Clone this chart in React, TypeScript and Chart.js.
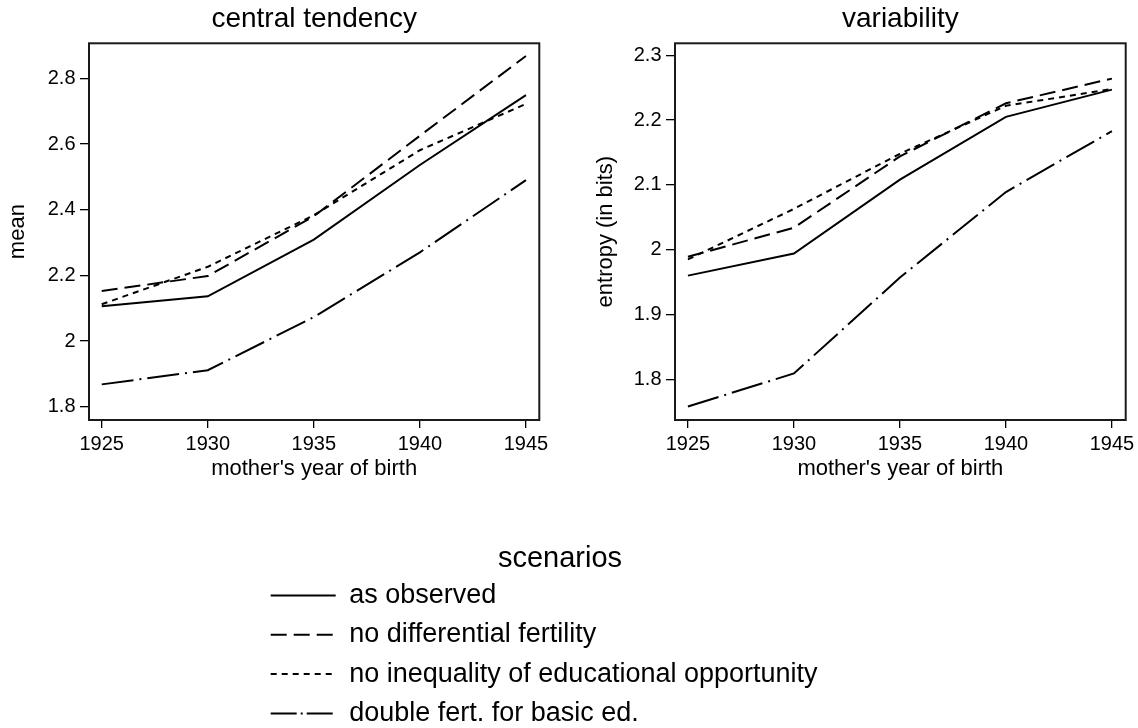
import React, { useEffect, useRef } from 'react';
import { Chart, registerables } from 'chart.js';

Chart.register(...registerables);

// ---------------- data ----------------
const years = [1925, 1930, 1935, 1940, 1945];
const xTickValues = [1925, 1930, 1935, 1940, 1945];

const scenarioLabels = [
  'as observed',
  'no differential fertility',
  'no inequality of educational opportunity',
  'double fert. for basic ed.',
];

// central tendency (mean)
const meanObserved = [2.106, 2.136, 2.309, 2.536, 2.749];
const meanNoDiffFert = [2.152, 2.198, 2.38, 2.625, 2.868];
const meanNoIEO = [2.112, 2.226, 2.383, 2.581, 2.722];
const meanDoubleFert = [1.868, 1.911, 2.073, 2.27, 2.49];

// variability (entropy in bits)
const entObserved = [1.96, 1.994, 2.108, 2.205, 2.247];
const entNoDiffFert = [1.989, 2.034, 2.144, 2.226, 2.264];
const entNoIEO = [1.985, 2.063, 2.148, 2.222, 2.248];
const entDoubleFert = [1.758, 1.809, 1.957, 2.089, 2.183];

const meanTickValues = [1.8, 2.0, 2.2, 2.4, 2.6, 2.8];
const entropyTickValues = [1.8, 1.9, 2.0, 2.1, 2.2, 2.3];

// ---------------- styles ----------------
const FONT = '"Liberation Sans", Arial, Helvetica, sans-serif';
const plotDashes = [[], [16, 7], [6, 5], [32, 6, 2, 6]];
const legendDashes = [[], [16, 7], [6, 5], [26, 4, 2, 4]];

const framePlugin = {
  id: 'frame',
  afterDraw(chart: any) {
    const { ctx, chartArea } = chart;
    if (!chartArea) return;
    const { left, top, right, bottom } = chartArea;
    ctx.save();
    ctx.strokeStyle = '#1a1a1a';
    ctx.lineWidth = 2;
    ctx.setLineDash([]);
    ctx.strokeRect(left, top, right - left, bottom - top);
    ctx.restore();
  },
};

type PanelOpts = {
  title: string;
  yTitle: string;
  series: number[][];
  yMin: number;
  yMax: number;
  xMin: number;
  xMax: number;
  yTicks: number[];
  yWidth: number;
  yTitlePad: number;
  padRight: number;
};

function panelConfig(o: PanelOpts): any {
  return {
    type: 'line',
    data: {
      datasets: o.series.map((vals, i) => ({
        label: scenarioLabels[i],
        data: years.map((yr, j) => ({ x: yr, y: vals[j] })),
        borderColor: '#000',
        backgroundColor: '#000',
        borderWidth: 2,
        borderDash: plotDashes[i],
        pointRadius: 0,
        tension: 0,
        fill: false,
      })),
    },
    options: {
      responsive: false,
      animation: false,
      events: [],
      layout: { padding: { left: 0, right: o.padRight, top: 0, bottom: 0 } },
      plugins: {
        legend: { display: false },
        tooltip: { enabled: false },
        title: {
          display: true,
          text: o.title,
          fullSize: false,
          color: '#000',
          font: { family: FONT, size: 28, weight: 'normal' },
          padding: { top: 2.7, bottom: 7 },
        },
      },
      scales: {
        x: {
          type: 'linear',
          position: 'bottom',
          min: o.xMin,
          max: o.xMax,
          bounds: 'data',
          afterBuildTicks: (s: any) => {
            s.ticks = xTickValues.map((v) => ({ value: v }));
          },
          afterFit: (s: any) => {
            s.height = 80;
          },
          ticks: {
            color: '#000',
            font: { family: FONT, size: 20 },
            padding: 4.8,
            maxRotation: 0,
            autoSkip: false,
            callback: (v: any) => String(v),
          },
          grid: {
            display: true,
            drawOnChartArea: false,
            drawTicks: true,
            tickLength: 8,
            color: '#000',
            lineWidth: 1.3,
          },
          border: { display: false },
          title: {
            display: true,
            text: "mother's year of birth",
            color: '#000',
            font: { family: FONT, size: 22 },
            padding: { top: 0, bottom: 17.5 },
          },
        },
        y: {
          type: 'linear',
          position: 'left',
          min: o.yMin,
          max: o.yMax,
          bounds: 'data',
          afterBuildTicks: (s: any) => {
            s.ticks = o.yTicks.map((v) => ({ value: v }));
          },
          afterFit: (s: any) => {
            s.width = o.yWidth;
          },
          ticks: {
            color: '#000',
            font: { family: FONT, size: 20 },
            padding: 4.5,
            autoSkip: false,
            callback: (v: any) => String(Math.round(Number(v) * 10) / 10),
          },
          grid: {
            display: true,
            drawOnChartArea: false,
            drawTicks: true,
            tickLength: 9,
            color: '#000',
            lineWidth: 1.3,
          },
          border: { display: false },
          title: {
            display: true,
            text: o.yTitle,
            color: '#000',
            font: { family: FONT, size: 22 },
            padding: { top: o.yTitlePad, bottom: 0 },
          },
        },
      },
    },
    plugins: [framePlugin],
  };
}

function legendConfig(): any {
  return {
    type: 'line',
    data: {
      datasets: scenarioLabels.map((l, i) => ({
        label: l,
        data: [],
        borderColor: '#000',
        backgroundColor: '#000',
        borderWidth: 2,
        borderDash: legendDashes[i],
        pointRadius: 0,
      })),
    },
    options: {
      responsive: false,
      animation: false,
      events: [],
      layout: { padding: { left: 258.4, right: 276.4, top: 0, bottom: 0 } },
      scales: { x: { display: false }, y: { display: false } },
      plugins: {
        tooltip: { enabled: false },
        title: {
          display: true,
          text: 'scenarios',
          color: '#000',
          font: { family: FONT, size: 29, weight: 'normal', lineHeight: 0.7 },
          padding: { top: 49.05, bottom: 0.35 },
        },
        legend: {
          display: true,
          position: 'left',
          align: 'start',
          fullSize: false,
          maxWidth: 800,
          labels: {
            usePointStyle: true,
            pointStyle: 'line',
            pointStyleWidth: 65,
            color: '#000',
            font: { family: FONT, size: 27 },
            padding: 12.3,
            generateLabels: (chart: any) =>
              chart.data.datasets.map((ds: any, i: number) => ({
                text: ds.label,
                fillStyle: 'rgba(0,0,0,0)',
                strokeStyle: '#000',
                fontColor: '#000',
                lineWidth: 2,
                lineCap: 'butt',
                lineJoin: 'miter',
                lineDash: ds.borderDash,
                lineDashOffset: 0,
                pointStyle: 'line',
                rotation: 0,
                hidden: false,
                datasetIndex: i,
              })),
          },
        },
      },
    },
  };
}

export default function App() {
  const r1 = useRef<HTMLCanvasElement>(null);
  const r2 = useRef<HTMLCanvasElement>(null);
  const r3 = useRef<HTMLCanvasElement>(null);

  useEffect(() => {
    Chart.defaults.font.family = FONT;
    const c1 = new Chart(
      r1.current as HTMLCanvasElement,
      panelConfig({
        title: 'central tendency',
        yTitle: 'mean',
        series: [meanObserved, meanNoDiffFert, meanNoIEO, meanDoubleFert],
        yMin: 1.7595,
        yMax: 2.9066,
        xMin: 1924.4,
        xMax: 1945.63,
        yTicks: meanTickValues,
        yWidth: 89,
        yTitlePad: 4.8,
        padRight: 20.7,
      })
    );
    const c2 = new Chart(
      r2.current as HTMLCanvasElement,
      panelConfig({
        title: 'variability',
        yTitle: 'entropy (in bits)',
        series: [entObserved, entNoDiffFert, entNoIEO, entDoubleFert],
        yMin: 1.7372,
        yMax: 2.3185,
        xMin: 1924.39,
        xMax: 1945.65,
        yTicks: entropyTickValues,
        yWidth: 97,
        yTitlePad: 15.1,
        padRight: 32.3,
      })
    );
    const c3 = new Chart(r3.current as HTMLCanvasElement, legendConfig());
    return () => {
      c1.destroy();
      c2.destroy();
      c3.destroy();
    };
  }, []);

  return (
    <div
      style={{
        position: 'fixed',
        left: 0,
        top: 0,
        width: 1138,
        height: 728,
        overflow: 'hidden',
        background: '#fff',
      }}
    >
      <canvas ref={r1} width={560} height={500} style={{ position: 'absolute', left: 0, top: 0, width: 560, height: 500 }} />
      <canvas ref={r2} width={580} height={500} style={{ position: 'absolute', left: 578, top: 0, width: 580, height: 500 }} />
      <canvas ref={r3} width={1138} height={260} style={{ position: 'absolute', left: 0, top: 500, width: 1138, height: 260 }} />
    </div>
  );
}
